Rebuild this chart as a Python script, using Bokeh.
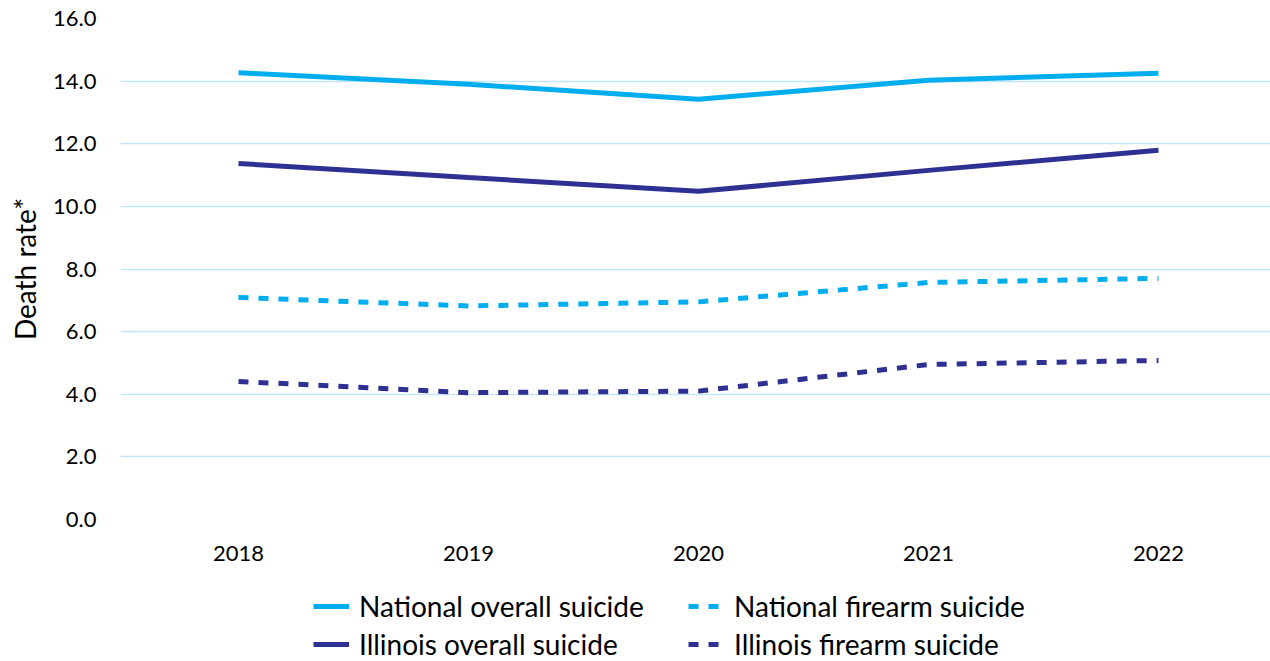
from bokeh.plotting import figure
from bokeh.layouts import column
from bokeh.models import Range1d, FixedTicker, Legend, LegendItem, CustomJSTickFormatter
from bokeh.embed import file_html
from bokeh.resources import INLINE

years = [2018, 2019, 2020, 2021, 2022]
national_overall = [14.27, 13.9, 13.42, 14.03, 14.25]
illinois_overall = [11.37, 10.92, 10.48, 11.15, 11.79]
national_firearm = [7.09, 6.82, 6.95, 7.57, 7.70]
illinois_firearm = [4.41, 4.05, 4.1, 4.95, 5.08]
y_ticks = [0, 2, 4, 6, 8, 10, 12, 14, 16]
series_labels = ["National overall suicide", "National firearm suicide",
                 "Illinois overall suicide", "Illinois firearm suicide"]

LIGHT = "#00AEEF"
DARK = "#2E3192"
FONT = "Lato"
DASH = "10 10"

p = figure(width=1270, height=566, output_backend="svg", toolbar_location=None,
           x_range=Range1d(2017.487, 2022.487), y_range=Range1d(0, 16),
           min_border_left=120, min_border_right=0, min_border_top=18, min_border_bottom=47)
p.outline_line_color = None
p.background_fill_color = "white"
p.border_fill_color = "white"

p.xgrid.grid_line_color = None
p.ygrid.grid_line_color = "#C4E5F7"
p.ygrid.grid_line_width = 1.5
p.ygrid.ticker = FixedTicker(ticks=y_ticks)

p.yaxis.ticker = FixedTicker(ticks=y_ticks)
p.yaxis.formatter = CustomJSTickFormatter(code="return tick.toFixed(1);")
p.xaxis.ticker = FixedTicker(ticks=years)
for ax in (p.xaxis, p.yaxis):
    ax.axis_line_color = None
    ax.major_tick_line_color = None
    ax.minor_tick_line_color = None
    ax.major_label_text_font = FONT
    ax.major_label_text_font_size = "22px"
    ax.major_label_text_color = "black"
p.yaxis.major_label_standoff = 18
p.xaxis.major_label_standoff = 20
p.yaxis.axis_label = "Death rate*"
p.yaxis.axis_label_text_font = FONT
p.yaxis.axis_label_text_font_size = "28px"
p.yaxis.axis_label_text_font_style = "normal"
p.yaxis.axis_label_text_color = "black"
p.yaxis.axis_label_standoff = 8

series = [national_overall, national_firearm, illinois_overall, illinois_firearm]
styles = [(LIGHT, "solid"), (LIGHT, DASH), (DARK, "solid"), (DARK, DASH)]
for vals, (col, dash) in zip(series, styles):
    p.line(years, vals, line_color=col, line_width=5, line_dash=dash)

# legend strip below the chart (its lines fall outside its range, only the legend shows)
lg = figure(width=1270, height=95, output_backend="svg", toolbar_location=None,
            x_range=Range1d(0, 1), y_range=Range1d(0, 1),
            min_border=0, x_axis_type=None, y_axis_type=None)
lg.outline_line_color = None
lg.xgrid.grid_line_color = None
lg.ygrid.grid_line_color = None
items = []
for lab, vals, (col, dash) in zip(series_labels, series, styles):
    r = lg.line(years, vals, line_color=col, line_width=5, line_dash=dash)
    items.append(LegendItem(label=lab, renderers=[r]))

legend = Legend(items=items, ncols=2, orientation="horizontal", location=(193, 0))
legend.label_text_font = FONT
legend.label_text_font_size = "28px"
legend.label_text_color = "black"
legend.glyph_width = 36
legend.glyph_height = 26
legend.label_height = 26
legend.label_width = 325
legend.label_standoff = 10
legend.spacing = 4
legend.padding = 0
legend.margin = 0
legend.border_line_color = None
legend.background_fill_alpha = 0
lg.add_layout(legend, "center")

layout = column(p, lg, spacing=0)
open("out.html", "w").write(file_html(layout, INLINE))
